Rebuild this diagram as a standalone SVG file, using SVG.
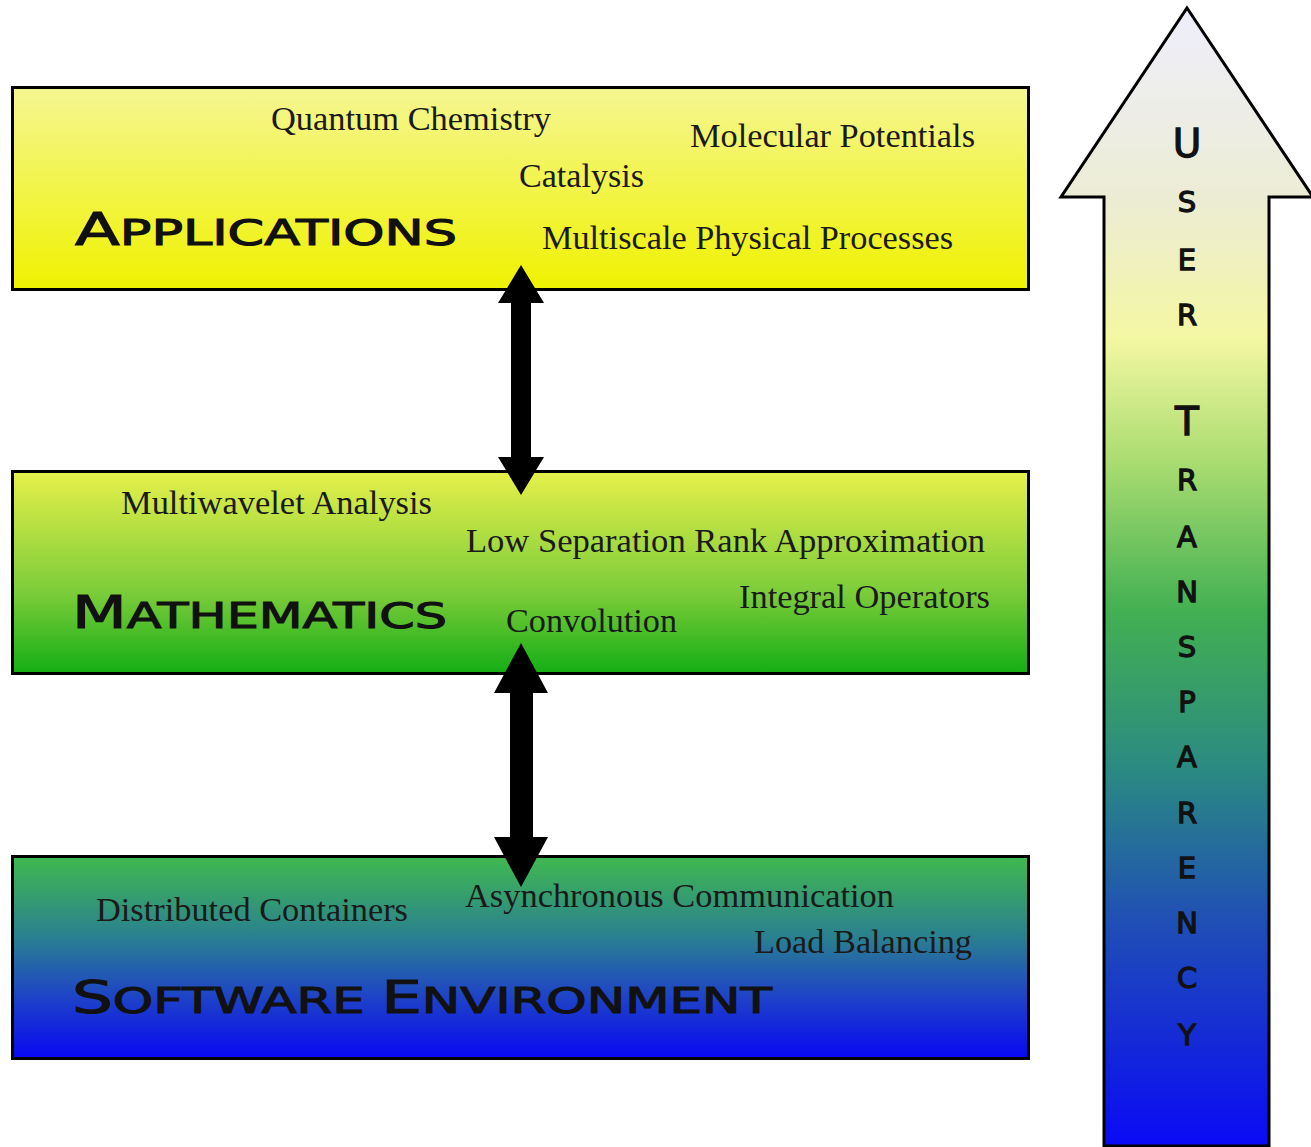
<svg xmlns="http://www.w3.org/2000/svg" width="1311" height="1147" viewBox="0 0 1311 1147">
  <defs>
    <linearGradient id="gApp" x1="0" y1="0" x2="0" y2="1">
      <stop offset="0" stop-color="#f5f692"/>
      <stop offset="1" stop-color="#eff200"/>
    </linearGradient>
    <linearGradient id="gMath" x1="0" y1="0" x2="0" y2="1">
      <stop offset="0" stop-color="#e6f04a"/>
      <stop offset="0.6" stop-color="#7ccc3a"/>
      <stop offset="1" stop-color="#14ae14"/>
    </linearGradient>
    <linearGradient id="gSoft" x1="0" y1="0" x2="0" y2="1">
      <stop offset="0" stop-color="#40b94f"/>
      <stop offset="0.4" stop-color="#2a8090"/>
      <stop offset="0.7" stop-color="#1e42c8"/>
      <stop offset="1" stop-color="#0808f2"/>
    </linearGradient>
    <linearGradient id="gUser" gradientUnits="userSpaceOnUse" x1="0" y1="8" x2="0" y2="1146">
      <stop offset="0" stop-color="#eeeefc"/>
      <stop offset="0.17" stop-color="#ececd4"/>
      <stop offset="0.29" stop-color="#f4f7a2"/>
      <stop offset="0.4" stop-color="#a9dc70"/>
      <stop offset="0.53" stop-color="#42b052"/>
      <stop offset="0.67" stop-color="#2a8a82"/>
      <stop offset="0.8" stop-color="#2050b4"/>
      <stop offset="1" stop-color="#0a0af5"/>
    </linearGradient>
    <style>
      .box { stroke: #000; stroke-width: 3; }
      .item { font-family: "Liberation Serif", "Times New Roman", serif; font-size: 33px; fill: #1a1a1a; }
      .head { font-family: "DejaVu Sans", "Liberation Sans", sans-serif; font-size: 36px; fill: #111; stroke: #111; stroke-width: 1.1; }
      .cap { font-size: 45px; }
      .vert { font-family: "DejaVu Sans", "Liberation Sans", sans-serif; font-size: 29px; fill: #111; stroke: #111; stroke-width: 1.3; text-anchor: middle; }
      .vcap { font-size: 39px; }
      .link { fill: #000; }
    </style>
  </defs>

  <rect width="1311" height="1147" fill="#ffffff"/>

  <!-- user transparency arrow -->
  <g id="user-transparency">
    <polygon points="1187,8 1313,197 1269,197 1269,1146 1104,1146 1104,197 1061,197" fill="url(#gUser)" stroke="#000" stroke-width="3" stroke-linejoin="miter"/>
    <text class="vert vcap" x="1187" y="157">U</text>
    <text class="vert" x="1187" y="212">S</text>
    <text class="vert" x="1187" y="270">E</text>
    <text class="vert" x="1187" y="325">R</text>
    <text class="vert vcap" x="1187" y="435">T</text>
    <text class="vert" x="1187" y="490">R</text>
    <text class="vert" x="1187" y="547">A</text>
    <text class="vert" x="1187" y="602">N</text>
    <text class="vert" x="1187" y="657">S</text>
    <text class="vert" x="1187" y="712">P</text>
    <text class="vert" x="1187" y="767">A</text>
    <text class="vert" x="1187" y="823">R</text>
    <text class="vert" x="1187" y="878">E</text>
    <text class="vert" x="1187" y="933">N</text>
    <text class="vert" x="1187" y="988">C</text>
    <text class="vert" x="1187" y="1045">Y</text>
  </g>

  <!-- applications layer -->
  <g id="applications">
    <rect class="box" x="12.5" y="87.5" width="1016" height="202" fill="url(#gApp)"/>
    <text class="head" x="75" y="245" textLength="382" lengthAdjust="spacingAndGlyphs"><tspan class="cap">A</tspan>PPLICATIONS</text>
    <text class="item" x="271" y="130" textLength="280" lengthAdjust="spacingAndGlyphs">Quantum Chemistry</text>
    <text class="item" x="690" y="147" textLength="285" lengthAdjust="spacingAndGlyphs">Molecular Potentials</text>
    <text class="item" x="519" y="187" textLength="125" lengthAdjust="spacingAndGlyphs">Catalysis</text>
    <text class="item" x="542" y="249" textLength="411" lengthAdjust="spacingAndGlyphs">Multiscale Physical Processes</text>
  </g>

  <!-- mathematics layer -->
  <g id="mathematics">
    <rect class="box" x="12.5" y="471.5" width="1016" height="202" fill="url(#gMath)"/>
    <text class="head" x="72" y="628" textLength="375" lengthAdjust="spacingAndGlyphs"><tspan class="cap">M</tspan>ATHEMATICS</text>
    <text class="item" x="121" y="514" textLength="311" lengthAdjust="spacingAndGlyphs">Multiwavelet Analysis</text>
    <text class="item" x="466" y="552" textLength="519" lengthAdjust="spacingAndGlyphs">Low Separation Rank Approximation</text>
    <text class="item" x="739" y="608" textLength="251" lengthAdjust="spacingAndGlyphs">Integral Operators</text>
    <text class="item" x="506" y="632" textLength="171" lengthAdjust="spacingAndGlyphs">Convolution</text>
  </g>

  <!-- software environment layer -->
  <g id="software-environment">
    <rect class="box" x="12.5" y="856.5" width="1016" height="202" fill="url(#gSoft)"/>
    <text class="head" x="72" y="1013" textLength="700" lengthAdjust="spacingAndGlyphs"><tspan class="cap">S</tspan>OFTWARE <tspan class="cap">E</tspan>NVIRONMENT</text>
    <text class="item" x="96" y="921" textLength="312" lengthAdjust="spacingAndGlyphs">Distributed Containers</text>
    <text class="item" x="465" y="907" textLength="429" lengthAdjust="spacingAndGlyphs">Asynchronous Communication</text>
    <text class="item" x="754" y="953" textLength="218" lengthAdjust="spacingAndGlyphs">Load Balancing</text>
  </g>

  <!-- connectors between layers -->
  <g id="connectors">
    <polygon class="link" points="521,265 544,303 531,303 531,457 544,457 521,495 498,457 511,457 511,303 498,303"/>
    <polygon class="link" points="521,643 548,693 533,693 533,837 548,837 521,887 494,837 510,837 510,693 494,693"/>
  </g>
</svg>
